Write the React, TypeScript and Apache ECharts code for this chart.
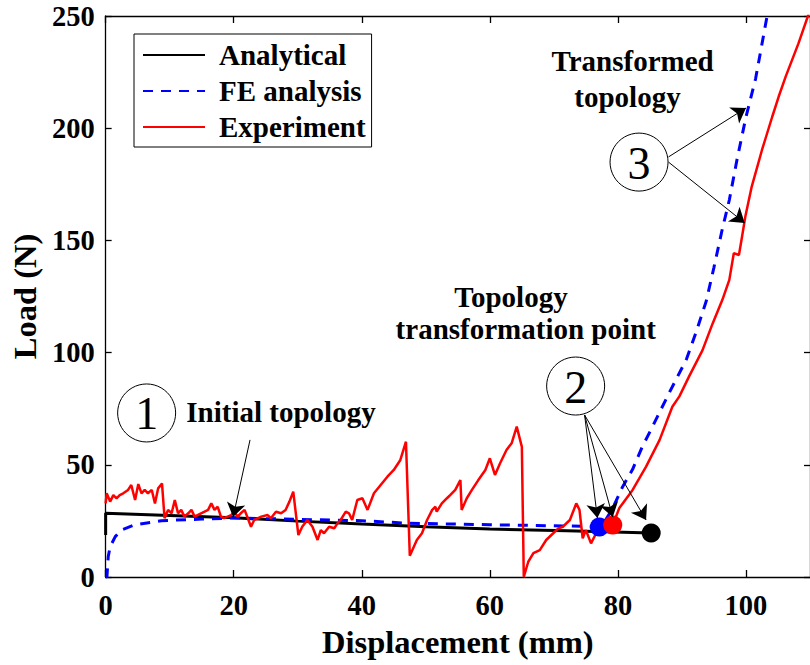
import React, { useEffect, useRef } from "react";
import * as echarts from "echarts";

const FONT = '"Liberation Serif", "Times New Roman", Times, serif';

const seriesNames = ["Analytical", "FE analysis", "Experiment"];

const analytical: number[][] = [
  [0, 18.7], [0, 28.4], [10, 27.4], [20, 26.4], [30, 24.9], [40, 23.6],
  [50, 22.4], [60, 21.4], [72, 20.6], [85.2, 19.6],
];

const feAnalysis: number[][] = [
  [0, 0], [0.2, 0], [0.4, 9], [0.7, 13.5], [1.5, 18], [2.5, 21], [4.5, 23.2],
  [8.7, 25.1], [15, 25.8], [20, 26.3], [30, 25.7], [40, 25.1], [47, 24],
  [60, 23.3], [72.9, 22.7], [77.1, 22.3], [78, 25], [79.2, 30.7], [80.7, 40],
  [82.3, 48], [83.8, 58], [85.4, 67], [88, 82], [90.7, 97], [92.2, 109],
  [93.8, 123], [95, 138], [96.3, 155], [97.4, 168], [98.6, 186], [100, 205],
  [101.5, 222], [103.3, 250],
];

const experiment: number[][] = [
  [0, 32.8], [0.16, 37.3], [0.7, 33.6], [1.2, 36.5], [1.7, 35], [2.2, 36.5],
  [2.75, 37.3], [3.5, 38.8], [4, 41], [4.6, 34.3], [5.1, 41.4], [5.6, 37.3],
  [6.1, 38.8], [6.6, 37.3], [7.2, 38.8], [7.7, 32.8], [8.2, 39.5], [8.8, 41.7],
  [9.2, 26.2], [9.75, 29.9], [10.3, 28.4], [10.8, 34.3], [11.3, 28.4],
  [11.8, 29.9], [12.3, 26.9], [12.9, 28.4], [13.4, 29.9], [13.9, 26.9],
  [14.9, 28.4], [16, 29.9], [16.5, 32.8], [17, 29.9], [17.5, 31.3], [18, 26.9],
  [18.5, 26.2], [19.6, 27.6], [20.1, 29.1], [20.6, 26.9], [21.1, 28.4],
  [21.7, 29.9], [22.2, 26.2], [22.7, 22.4], [23.2, 25.4], [24.3, 26.9],
  [25.3, 27.6], [25.8, 26.2], [26.6, 29.1], [27.4, 28.4], [28.1, 29.9],
  [28.7, 33.6], [29.3, 38], [30.1, 18.7], [30.7, 22.4], [31.5, 25.4],
  [32.3, 22.4], [33.1, 16.5], [33.6, 20.9], [34.1, 19.5], [34.9, 22.4],
  [35.7, 21.7], [36.2, 23.9], [36.7, 25.4], [37.5, 29.1], [38, 28.4],
  [38.5, 25.4], [39.3, 34.3], [40.1, 35.1], [40.9, 29.9], [41.9, 37.3],
  [44, 44.7], [45, 47.7], [46, 52], [46.9, 60.3], [47.5, 9.5], [48.6, 16.5],
  [49.4, 19.5], [50.2, 25.4], [51, 29.9], [51.5, 31.3], [51.7, 29.1],
  [52.5, 32.8], [53.3, 35.1], [53.8, 36.5], [54.6, 38.8], [55.4, 43.2],
  [55.6, 29.9], [56.4, 35.1], [57.2, 38.8], [58.2, 43.2], [59.3, 47.7],
  [60, 52.9], [60.8, 45.5], [61.6, 50.7], [62.6, 56.6], [63.4, 59.6],
  [64.2, 67], [65, 58], [65.3, 0.1], [66, 6.8], [66.8, 10.6], [67.8, 12],
  [68.8, 16.5], [69.9, 19.5], [70.7, 21.7], [71.4, 22.4], [72.5, 25.4],
  [73.5, 32.8], [74, 29.9], [74.5, 17.2], [75, 20.9], [75.8, 15], [76.6, 19.5],
  [77.8, 21.5], [79.2, 23.2], [80.2, 30.6], [82.3, 38.8], [84.4, 49.2],
  [86.5, 61], [88.5, 75.9], [89.6, 80.5], [91.1, 89.3], [93.2, 101],
  [94.8, 113], [96.3, 123.4], [97.4, 132.4], [98.1, 144.3], [98.9, 143.5],
  [99.3, 150.2], [99.9, 160.6], [100.9, 174], [102.5, 190.3], [104.1, 205.1],
  [105.1, 214], [106.2, 223], [108.2, 237.8], [109.8, 251],
];

const transitionAnalytical: number[][] = [[85.2, 19.6]];
const transitionFE: number[][] = [[77.1, 22.3]];
const transitionExperiment: number[][] = [[79.2, 23.2]];

const xRange = [0, 110];
const xStep = 20;
const yRange = [0, 250];
const yStep = 50;

const xTitle = "Displacement (mm)";
const yTitle = "Load (N)";

// annotation anchors in data units
const callouts = [
  { label: "1", at: [6.4, 73.1] },
  { label: "2", at: [73.4, 85.1] },
  { label: "3", at: [83.3, 184.9] },
];
const notes = [
  { text: "Initial topology", at: [12.6, 73.5], align: "left" },
  { text: "Topology", at: [63.3, 124.8], align: "center" },
  { text: "transformation point", at: [65.6, 110.5], align: "center" },
  { text: "Transformed", at: [82.3, 230], align: "center" },
  { text: "topology", at: [81.5, 213.9], align: "center" },
];
const arrows: number[][][] = [
  [[22.55, 61.1], [19.9, 26.7]],
  [[74.8, 72.2], [76.8, 26.3]],
  [[74.8, 72.2], [79.2, 26.7]],
  [[74.8, 72.2], [84.4, 25.4]],
  [[87.9, 187.2], [100, 209]],
  [[87.9, 184.9], [99.8, 157.8]],
];

export default function App() {
  const ref = useRef<HTMLDivElement>(null);
  useEffect(() => {
    if (!ref.current) return;
    const chart = echarts.init(ref.current, undefined, { renderer: "svg" });
    const axisLineStyle = { color: "#000", width: 1.3 };
    const labelStyle = {
      color: "#000",
      fontFamily: FONT,
      fontWeight: "bold" as const,
      fontSize: 28.5,
    };
    const nameStyle = {
      color: "#000",
      fontFamily: FONT,
      fontWeight: "bold" as const,
      fontSize: 32.5,
    };
    const baseX = {
      type: "value" as const,
      min: xRange[0],
      max: xRange[1],
      interval: xStep,
      splitLine: { show: false },
      axisLine: { show: true, onZero: false, lineStyle: axisLineStyle },
      axisTick: { show: true, inside: true, length: 7, lineStyle: axisLineStyle },
    };
    const baseY = {
      type: "value" as const,
      min: yRange[0],
      max: yRange[1],
      interval: yStep,
      splitLine: { show: false },
      axisLine: { show: true, onZero: false, lineStyle: axisLineStyle },
      axisTick: { show: true, inside: true, length: 6, lineStyle: axisLineStyle },
    };
    const option: any = {
      animation: false,
      backgroundColor: "#fff",
      grid: { left: 104, top: 16, right: -1, bottom: 88, containLabel: false },
      legend: {
        data: seriesNames,
        orient: "vertical",
        left: 134,
        top: 34,
        itemWidth: 62,
        itemHeight: 14,
        itemGap: 0,
        padding: [3, 6, 2, 8],
        borderColor: "#000",
        borderWidth: 1,
        borderRadius: 0,
        backgroundColor: "#fff",
        selectedMode: false,
        itemStyle: { opacity: 0 },
        textStyle: {
          color: "#000",
          fontFamily: FONT,
          fontWeight: "bold",
          fontSize: 29,
          lineHeight: 36,
          padding: [0, 0, 0, 9],
        },
      },
      xAxis: [
        {
          ...baseX,
          position: "bottom",
          axisLabel: { ...labelStyle, margin: 14, showMaxLabel: false },
          name: xTitle,
          nameLocation: "middle",
          nameGap: 48,
          nameTextStyle: nameStyle,
        },
        { ...baseX, position: "top", axisLabel: { show: false } },
      ],
      yAxis: [
        {
          ...baseY,
          position: "left",
          axisLabel: { ...labelStyle, margin: 11 },
          name: yTitle,
          nameLocation: "middle",
          nameGap: 62,
          nameTextStyle: nameStyle,
        },
        { ...baseY, position: "right", axisLabel: { show: false } },
      ],
      series: [
        {
          name: seriesNames[0],
          type: "line",
          data: analytical,
          symbol: "none",
          lineStyle: { color: "#000", width: 3 },
          itemStyle: { color: "#000" },
          z: 2,
        },
        {
          name: seriesNames[1],
          type: "line",
          data: feAnalysis,
          symbol: "none",
          lineStyle: { color: "#0000ff", width: 3, type: [10, 8] },
          itemStyle: { color: "#0000ff" },
          z: 3,
        },
        {
          name: seriesNames[2],
          type: "line",
          data: experiment,
          symbol: "none",
          lineStyle: { color: "#ff0000", width: 2.5 },
          itemStyle: { color: "#ff0000" },
          z: 4,
        },
        {
          name: "pt-fe",
          type: "scatter",
          data: transitionFE,
          symbolSize: 19,
          itemStyle: { color: "#0000ff", opacity: 1 },
          z: 5,
        },
        {
          name: "pt-exp",
          type: "scatter",
          data: transitionExperiment,
          symbolSize: 19,
          itemStyle: { color: "#ff0000", opacity: 1 },
          z: 6,
        },
        {
          name: "pt-analytical",
          type: "scatter",
          data: transitionAnalytical,
          symbolSize: 19,
          itemStyle: { color: "#000", opacity: 1 },
          z: 7,
          markLine: {
            silent: true,
            animation: false,
            symbol: ["none", "arrow"],
            symbolSize: 14,
            label: { show: false },
            lineStyle: { color: "#000", width: 1, type: "solid" },
            itemStyle: { color: "#000" },
            emphasis: { disabled: true },
            z: 20,
            data: arrows.map((a) => [{ coord: a[0] }, { coord: a[1] }]),
          },
        },
      ],
    };
    chart.setOption(option);

    const toPx = (p: number[]) => chart.convertToPixel({ gridIndex: 0 }, p) as number[];
    const graphic: any[] = [];
    callouts.forEach((c) => {
      const [x, y] = toPx(c.at);
      graphic.push({
        type: "group",
        x,
        y,
        z: 100,
        children: [
          {
            type: "circle",
            shape: { cx: 0, cy: 0, r: 29 },
            style: { fill: "#fff", stroke: "#000", lineWidth: 1 },
          },
          {
            type: "text",
            x: 0,
            y: 1,
            style: {
              text: c.label,
              fill: "#000",
              align: "center",
              verticalAlign: "middle",
              fontFamily: FONT,
              fontSize: 46,
            },
          },
        ],
      });
    });
    notes.forEach((n) => {
      const [x, y] = toPx(n.at);
      graphic.push({
        type: "text",
        x,
        y,
        z: 100,
        style: {
          text: n.text,
          fill: "#000",
          align: n.align,
          verticalAlign: "middle",
          fontFamily: FONT,
          fontWeight: "bold",
          fontSize: 29,
        },
      });
    });
    chart.setOption({ graphic });

    return () => chart.dispose();
  }, []);
  return (
    <div
      ref={ref}
      style={{ position: "fixed", left: 0, top: 0, width: 810, height: 665, background: "#fff" }}
    />
  );
}
